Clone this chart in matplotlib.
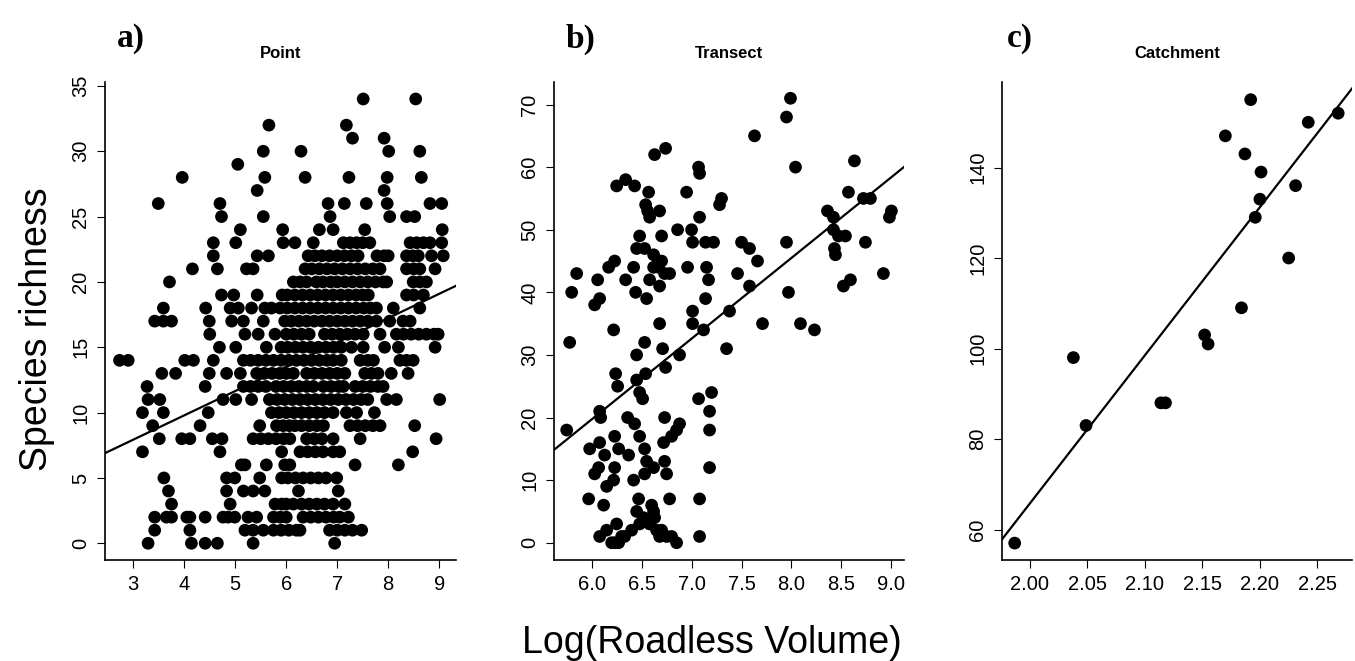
import numpy as np
import matplotlib
matplotlib.use("Agg")
import matplotlib.pyplot as plt

plt.rcParams["font.family"] = ["Liberation Sans", "DejaVu Sans"]

# =========================================
# DATA
# =========================================
# a) Point: richness is integer, so points are kept as rows (y) with their x values
point_rows_y = [34, 32, 31, 30, 29, 28, 27, 26, 25, 24, 23, 22, 21, 20, 19, 18, 17,
                16, 15, 14, 13, 12, 11, 10, 9, 8, 7, 6, 5, 4, 3, 2, 1, 0]
point_rows_x = [
    [7.51, 8.54],
    [5.66, 7.18],
    [7.30, 7.92],
    [5.55, 6.29, 8.01, 8.62],
    [5.05],
    [3.96, 5.58, 6.37, 7.23, 7.98, 8.65],
    [5.43, 7.92],
    [3.49, 4.70, 6.82, 7.14, 7.57, 7.98, 8.82, 9.05],
    [4.73, 5.55, 6.86, 8.03, 8.36, 8.52],
    [5.10, 5.93, 6.65, 6.92, 7.54, 9.06],
    [4.57, 5.01, 5.94, 6.17, 6.53, 7.12, 7.25, 7.38, 7.50, 7.64, 8.43, 8.56, 8.69,
     8.82, 9.05],
    [4.57, 5.43, 5.65, 6.43, 6.56, 6.70, 6.85, 7.00, 7.14, 7.28, 7.41, 7.78, 7.92,
     8.00, 8.36, 8.48, 8.59, 8.85, 9.08],
    [4.16, 4.65, 5.22, 5.35, 6.37, 6.50, 6.65, 6.80, 6.95, 7.10, 7.25, 7.40, 7.55,
     7.70, 7.84, 8.36, 8.50, 8.62, 8.92],
    [3.71, 6.14, 6.27, 6.40, 6.59, 6.72, 6.87, 7.00, 7.15, 7.30, 7.45, 7.60, 7.75,
     7.90, 7.97, 8.49, 8.62, 8.75],
    [4.73, 4.97, 5.43, 5.92, 6.02, 6.17, 6.32, 6.47, 6.62, 6.77, 6.92, 7.07, 7.22,
     7.37, 7.50, 7.61, 8.36, 8.50, 8.69],
    [3.59, 4.42, 4.90, 5.06, 5.32, 5.58, 5.71, 5.88, 6.02, 6.17, 6.32, 6.47, 6.62,
     6.77, 6.92, 7.07, 7.22, 7.37, 7.52, 7.65, 7.77, 8.10, 8.62],
    [3.42, 3.59, 3.75, 4.49, 4.93, 5.16, 5.55, 5.97, 6.10, 6.25, 6.40, 6.55, 6.70,
     6.85, 7.00, 7.15, 7.30, 7.45, 7.60, 7.77, 8.03, 8.29, 8.43],
    [4.50, 5.19, 5.45, 5.78, 6.00, 6.15, 6.30, 6.45, 6.75, 6.90, 7.05, 7.20, 7.35,
     7.51, 7.84, 8.16, 8.30, 8.45, 8.60, 8.75, 8.90, 8.98],
    [4.69, 5.01, 5.61, 5.90, 6.03, 6.18, 6.33, 6.48, 6.63, 6.78, 6.93, 7.08, 7.28,
     7.51, 7.93, 8.20, 8.92],
    [2.73, 2.90, 4.01, 4.18, 4.57, 5.16, 5.30, 5.45, 5.60, 5.75, 5.90, 6.05, 6.20,
     6.35, 6.50, 6.65, 6.80, 6.92, 7.08, 7.45, 7.60, 7.71, 8.23, 8.36, 8.49],
    [3.56, 3.83, 4.49, 4.83, 5.10, 5.42, 5.57, 5.72, 5.87, 6.00, 6.14, 6.40, 6.55,
     6.70, 6.85, 7.00, 7.15, 7.54, 7.67, 7.80, 8.06, 8.39],
    [3.27, 4.41, 5.16, 5.30, 5.45, 5.60, 5.80, 5.95, 6.10, 6.25, 6.40, 6.53, 6.73,
     6.88, 7.03, 7.12, 7.35, 7.50, 7.65, 7.80, 7.90],
    [3.29, 3.52, 4.76, 5.01, 5.32, 5.67, 5.82, 5.97, 6.12, 6.27, 6.42, 6.57, 6.72,
     6.87, 7.02, 7.17, 7.32, 7.47, 7.60, 7.97, 8.16, 9.01],
    [3.18, 3.59, 4.47, 5.71, 5.86, 6.00, 6.15, 6.30, 6.45, 6.60, 6.75, 6.92, 7.18,
     7.38, 7.73],
    [3.38, 4.31, 5.48, 5.81, 5.94, 6.06, 6.17, 6.30, 6.45, 6.60, 6.73, 7.25, 7.40,
     7.55, 7.70, 7.84, 8.52],
    [3.51, 3.95, 4.11, 4.55, 4.74, 5.35, 5.50, 5.65, 5.80, 5.95, 6.07, 6.40, 6.55,
     6.70, 6.92, 7.45, 8.94],
    [3.18, 4.70, 5.91, 6.27, 6.42, 6.57, 6.72, 6.92, 7.05, 8.48],
    [5.12, 5.19, 5.61, 5.97, 6.07, 7.35, 8.20],
    [3.60, 4.83, 4.99, 5.48, 5.91, 6.03, 6.18, 6.33, 6.48, 6.63, 6.78, 6.99],
    [3.69, 4.83, 5.16, 5.35, 5.58, 6.24, 7.02],
    [3.75, 4.90, 5.78, 5.91, 6.00, 6.14, 6.30, 6.45, 6.60, 6.75, 6.92, 7.15],
    [3.42, 3.65, 3.75, 4.05, 4.11, 4.41, 4.76, 4.86, 4.99, 5.25, 5.42, 5.75, 5.88,
     6.00, 6.33, 6.48, 6.63, 6.78, 6.93, 7.05, 7.22],
    [3.42, 4.11, 5.19, 5.35, 5.55, 5.75, 5.90, 6.05, 6.20, 6.27, 6.85, 7.00, 7.15,
     7.30, 7.48],
    [3.29, 4.14, 4.41, 4.65, 5.35, 6.95],
]
point_fit = [2.35, 1.86]  # intercept, slope

# b) Transect
transect_x = [7.99, 7.95, 7.63, 8.04, 8.63, 8.57, 8.72, 8.79, 8.36, 8.42, 8.42, 8.47,
              8.54, 9.00, 8.98, 8.43, 8.44, 8.74, 8.92, 8.52, 8.59, 7.95, 7.97, 7.50,
              7.58, 7.66, 7.46, 7.58, 7.30, 7.28, 7.38, 7.71, 8.09, 8.23, 7.35,
              6.74, 6.63, 7.07, 7.08, 6.25, 6.34, 6.43, 6.57, 6.95, 6.54, 6.56, 6.58,
              6.68, 7.08, 6.86, 7.00, 7.01, 6.48, 6.70, 7.14, 7.22, 6.45, 6.53, 6.62,
              6.70, 6.23, 6.17, 6.42, 6.62, 6.67, 6.73, 6.78, 6.96, 7.15, 5.85, 6.06,
              6.34, 6.58, 6.68, 7.17, 5.80, 6.08, 6.03, 6.44, 6.55, 7.14, 7.01, 6.22,
              6.68, 7.01, 7.12, 5.78, 6.53,
              6.71, 6.45, 6.88, 6.24, 6.54, 6.45, 6.74, 6.26, 6.48, 6.51, 7.07, 7.20,
              6.08, 6.09, 7.18, 7.18, 6.36, 6.43, 6.48, 6.73, 6.72, 6.80, 6.85, 6.88,
              5.75, 5.98, 6.08, 6.23, 6.27, 6.37, 6.13, 6.53, 6.55, 6.62, 6.73, 6.75,
              6.53, 6.07, 6.03, 6.23, 6.22, 6.42, 6.15, 7.18, 5.97, 6.12, 6.47, 6.78,
              7.08, 6.60, 6.45, 6.52, 6.63, 6.25, 6.15, 6.08, 6.20, 6.27, 6.33, 6.40,
              6.48, 6.58, 6.65, 6.68, 6.75, 6.85, 7.08, 6.23, 6.30, 6.62, 6.70, 6.80]
transect_y = [71, 68, 65, 60, 61, 56, 55, 55, 53, 52, 50, 49,
              49, 53, 52, 47, 46, 48, 43, 41, 42, 48, 40, 48,
              47, 45, 43, 41, 55, 54, 37, 35, 35, 34, 31,
              63, 62, 60, 59, 57, 58, 57, 56, 56, 54, 53, 52,
              53, 52, 50, 50, 48, 49, 49, 48, 48, 47, 47, 46,
              45, 45, 44, 44, 44, 44, 43, 43, 44, 44, 43, 42,
              42, 42, 41, 42, 40, 39, 38, 40, 39, 39, 37, 34,
              35, 35, 34, 32, 32,
              31, 30, 30, 27, 27, 26, 28, 25, 24, 23, 23, 24,
              21, 20, 21, 18, 20, 19, 17, 20, 16, 17, 18, 19,
              18, 15, 16, 17, 15, 14, 14, 15, 13, 12, 13, 11,
              11, 12, 11, 12, 10, 10, 9, 12, 7, 6, 7, 7,
              7, 6, 5, 4, 4, 3, 2, 1, 0, 0, 1, 2,
              3, 3, 2, 1, 1, 0, 1, 0, 1, 5, 2, 1]
transect_fit = [-57.7, 12.9]

# c) Catchment
catchment_x = [1.987, 2.038, 2.049, 2.114, 2.118, 2.152, 2.155, 2.184, 2.170, 2.187,
               2.192, 2.201, 2.200, 2.196, 2.225, 2.231, 2.242, 2.268]
catchment_y = [57, 98, 83, 88, 88, 103, 101, 109, 147, 143,
               155, 139, 133, 129, 120, 136, 150, 152]
catchment_fit = [-589.7, 327.7]


# =========================================
# HELPERS
# =========================================
def style_axes(ax):
    for side in ["top", "right"]:
        ax.spines[side].set_visible(False)
    for side in ["left", "bottom"]:
        ax.spines[side].set_linewidth(1.2)
    ax.tick_params(direction="out", length=5.5, width=0.8, labelsize=14.5,
                   pad=5, colors="black")
    ax.tick_params(axis="y", labelrotation=90)
    for lab in ax.get_yticklabels():
        lab.set_verticalalignment("center")


def draw_panel(ax, x, y, fit):
    ax.scatter(x, y, s=84, color="black", edgecolors="none", zorder=3)
    ax.axline((0, fit[0]), slope=fit[1], color="black", lw=1.6, zorder=4)


# =========================================
# FIGURE
# =========================================
fig = plt.figure(figsize=(13.55, 6.61), dpi=100)

bottom = 101 / 661
height = 478 / 661

# a) Point
ax_a = fig.add_axes([105 / 1355, bottom, 351 / 1355, height])
px = [v for row in point_rows_x for v in row]
py = [yy for yy, row in zip(point_rows_y, point_rows_x) for _ in row]
draw_panel(ax_a, px, py, point_fit)
ax_a.set_xlim(2.445, 9.33)
ax_a.set_ylim(-1.28, 35.3)
ax_a.set_xticks(np.arange(3, 10, 1))
ax_a.set_yticks(np.arange(0, 36, 5))
style_axes(ax_a)

# b) Transect
ax_b = fig.add_axes([554 / 1355, bottom, 350 / 1355, height])
draw_panel(ax_b, transect_x, transect_y, transect_fit)
ax_b.set_xlim(5.623, 9.126)
ax_b.set_ylim(-2.76, 73.6)
ax_b.set_xticks(np.arange(6.0, 9.01, 0.5))
ax_b.set_xticklabels([f"{v:.1f}" for v in np.arange(6.0, 9.01, 0.5)])
ax_b.set_yticks(np.arange(0, 71, 10))
style_axes(ax_b)

# c) Catchment
ax_c = fig.add_axes([1002 / 1355, bottom, 350 / 1355, height])
draw_panel(ax_c, catchment_x, catchment_y, catchment_fit)
ax_c.set_xlim(1.976, 2.280)
ax_c.set_ylim(53.27, 158.9)
ax_c.set_xticks(np.arange(2.0, 2.251, 0.05))
ax_c.set_xticklabels([f"{v:.2f}" for v in np.arange(2.0, 2.251, 0.05)])
ax_c.set_yticks(np.arange(60, 141, 20))
style_axes(ax_c)

# titles and panel letters
for ax, title in [(ax_a, "Point"), (ax_b, "Transect"), (ax_c, "Catchment")]:
    pos = ax.get_position()
    fig.text(pos.x0 + pos.width / 2, 1 - 53 / 661, title, ha="center",
             va="center", fontsize=12, fontweight="bold")

for xpix, letter in [(117, "a)"), (566, "b)"), (1007, "c)")]:
    fig.text(xpix / 1355, 1 - 39 / 661, letter, ha="left", va="center",
             fontsize=24, fontweight="bold", family="Liberation Serif")

fig.text(37 / 1355, 1 - 329 / 661, "Species richness", rotation=90,
         ha="center", va="center", fontsize=27)
fig.text(712 / 1355, 1 - 643 / 661, "Log(Roadless Volume)", ha="center",
         va="center", fontsize=27)

fig.savefig("out.png", dpi=100)
